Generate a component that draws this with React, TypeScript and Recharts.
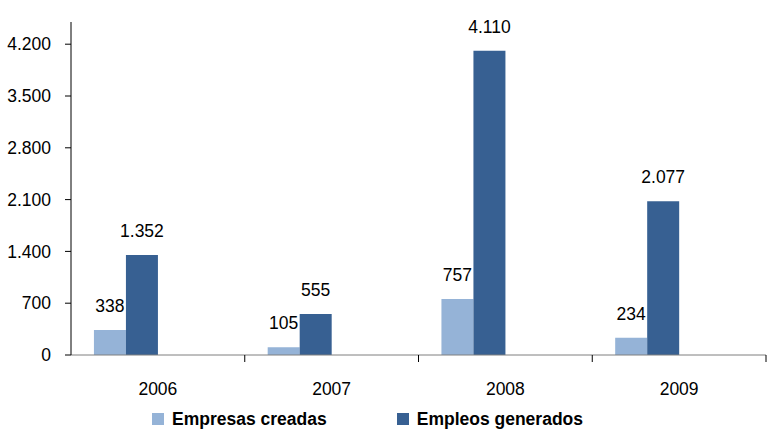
import React from 'react';
import { BarChart, Bar, XAxis, YAxis, LabelList, Legend } from 'recharts';

const years = ['2006', '2007', '2008', '2009'];
const empresasCreadas = [338, 105, 757, 234];
const empleosGenerados = [1352, 555, 4110, 2077];
const yTicks = [0, 700, 1400, 2100, 2800, 3500, 4200];
const seriesNames = ['Empresas creadas', 'Empleos generados'];

const COLORS = {
  empresas: '#95b3d7',
  empleos: '#376092',
};

const FONT = '"Liberation Sans", Arial, sans-serif';
const FS = 17.5;

// separador de miles con punto
const fmt = (v: any) => String(v).replace(/\B(?=(\d{3})+(?!\d))/g, '.');

const data = years.map((year, i) => ({
  year,
  empresas: empresasCreadas[i],
  empleos: empleosGenerados[i],
}));

// tick del eje X: texto centrado y marca en el límite de la categoría
const XTick = (props: any) => {
  const { x, y, payload } = props;
  const off = payload.offset || 0;
  return (
    <g>
      <line x1={x + off} x2={x + off} y1={y - 8} y2={y - 1} stroke="#000" />
      <text
        x={x}
        y={y + 32}
        textAnchor="middle"
        fill="#000"
        fontSize={FS}
        fontFamily={FONT}
      >
        {payload.value}
      </text>
    </g>
  );
};

const LegendContent = (props: any) => {
  const items = (props.payload || [])
    .filter((p: any) => p.type !== 'none')
    .sort((a: any, b: any) => seriesNames.indexOf(a.value) - seriesNames.indexOf(b.value));
  return (
    <div
      style={{
        display: 'flex',
        paddingLeft: 152,
        paddingTop: 8,
        gap: 70,
        fontFamily: FONT,
        fontWeight: 'bold',
        fontSize: FS,
        lineHeight: '20px',
        color: '#000',
      }}
    >
      {items.map((p: any) => (
        <div key={p.value} style={{ display: 'flex', alignItems: 'center' }}>
          <span
            style={{
              display: 'inline-block',
              width: 12,
              height: 12,
              background: p.color,
              marginRight: 8,
            }}
          />
          <span>{p.value}</span>
        </div>
      ))}
    </div>
  );
};

export default function App() {
  return (
    <div style={{ position: 'absolute', left: 0, top: 0, background: '#fff' }}>
      <BarChart
        width={767}
        height={429}
        data={data}
        margin={{ top: 22, right: 1, left: 0, bottom: 0 }}
        barGap={0}
        barCategoryGap="13.2%"
      >
        <XAxis
          dataKey="year"
          axisLine={{ stroke: '#7f7f7f' }}
          tickLine={false}
          tick={<XTick />}
          height={46}
          interval={0}
        />
        <YAxis
          width={71}
          domain={[0, 4500]}
          ticks={yTicks}
          tickFormatter={fmt}
          axisLine={{ stroke: '#000' }}
          tickLine={{ stroke: '#000' }}
          tickSize={6}
          tickMargin={14}
          tick={{ fill: '#000', fontSize: FS, fontFamily: FONT }}
        />
        <Legend
          verticalAlign="bottom"
          height={28}
          itemSorter={null as any}
          wrapperStyle={{ left: 0, width: 767 }}
          content={<LegendContent />}
        />
        <Bar
          dataKey="empresas"
          name={seriesNames[0]}
          fill={COLORS.empresas}
          isAnimationActive={false}
        >
          <LabelList
            dataKey="empresas"
            position="top"
            offset={18}
            formatter={fmt}
            fill="#000"
            fontSize={FS}
            fontFamily={FONT}
          />
        </Bar>
        <Bar
          dataKey="empleos"
          name={seriesNames[1]}
          fill={COLORS.empleos}
          isAnimationActive={false}
        >
          <LabelList
            dataKey="empleos"
            position="top"
            offset={18}
            formatter={fmt}
            fill="#000"
            fontSize={FS}
            fontFamily={FONT}
          />
        </Bar>
        {/* series vacías que reservan el hueco a la derecha, como en el original */}
        <Bar dataKey="vacio1" legendType="none" fill="none" isAnimationActive={false} />
        <Bar dataKey="vacio2" legendType="none" fill="none" isAnimationActive={false} />
      </BarChart>
    </div>
  );
}
